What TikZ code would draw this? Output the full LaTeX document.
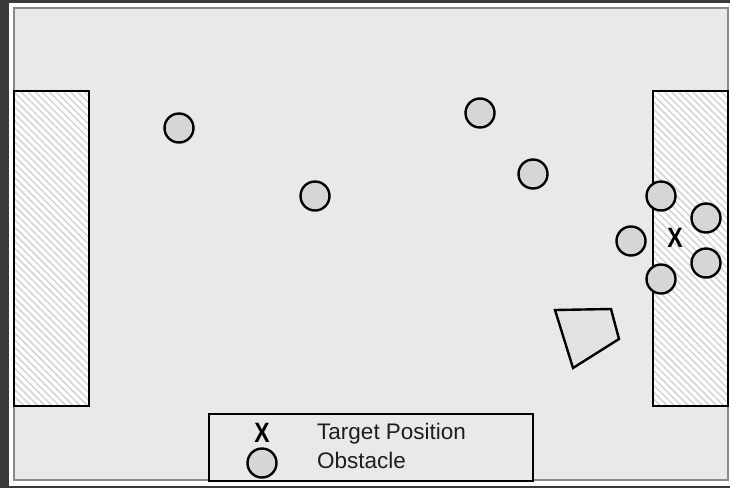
\documentclass[tikz,border=0pt]{standalone}
\usepackage{fontspec}
\setmainfont{Liberation Sans}
\usetikzlibrary{patterns.meta}
\definecolor{darkbg}{HTML}{3A3A3A}
\definecolor{fieldgray}{HTML}{E9E9E9}
\definecolor{obsgray}{HTML}{D6D6D6}
\definecolor{polygray}{HTML}{E2E2E2}
\definecolor{hatchgray}{HTML}{D4D4D4}
\definecolor{bordergray}{HTML}{8A8A8A}
\definecolor{textgray}{HTML}{1E1E1E}
\tikzset{
  obstacle/.style={circle, draw=black, fill=obsgray, line width=2.4pt, minimum size=29pt, inner sep=0pt},
  goalbox/.style={draw=black, line width=2.2pt, fill=white, pattern={Lines[angle=-45,distance=5pt,line width=1.5pt]}, pattern color=hatchgray},
  targetmark/.style={font=\fontsize{28}{28}\selectfont\bfseries, inner sep=0pt},
  legendtext/.style={font=\fontsize{22.5}{24}\selectfont, text=textgray, anchor=west, inner sep=0pt}
}
\newcommand{\xmark}{\scalebox{0.82}[1]{X}}
\begin{document}
\begin{tikzpicture}[x=1pt,y=-1pt]
\useasboundingbox (0,0) rectangle (730,488);
\fill[darkbg] (0,0) rectangle (730,488);
\fill[white] (9,3) rectangle (730,486);
\draw[bordergray, line width=1.8pt, fill=fieldgray] (14,8) rectangle (728,480);
% goals
\fill[white] (14,91) rectangle (89,406);
\fill[white] (653,91) rectangle (728,406);
\draw[goalbox] (14,91) rectangle (89,406);
\draw[goalbox] (653,91) rectangle (728,406);
% obstacles
\node[obstacle] (o1) at (179,128) {};
\node[obstacle] (o2) at (480,113) {};
\node[obstacle] (o3) at (533,174) {};
\node[obstacle] (o4) at (315,196) {};
\node[obstacle] (o5) at (661,196) {};
\node[obstacle] (o6) at (706,218) {};
\node[obstacle] (o7) at (631,241) {};
\node[obstacle] (o8) at (706,263) {};
\node[obstacle] (o9) at (661,279) {};
\node[targetmark] (tx) at (675,238) {\xmark};
% polygon obstacle
\draw[black, line width=2.4pt, fill=polygray, line join=miter] (555,310) -- (611,309) -- (619,339) -- (573,368) -- cycle;
% legend
\draw[black, line width=2pt, fill=fieldgray] (209,414) rectangle (533,481);
\node[targetmark] (lx) at (262,433) {\xmark};
\node[obstacle] (lo) at (262,463) {};
\node[legendtext] (lt1) at (317,434) {Target Position};
\node[legendtext] (lt2) at (317,460) {Obstacle};
\end{tikzpicture}
\end{document}
